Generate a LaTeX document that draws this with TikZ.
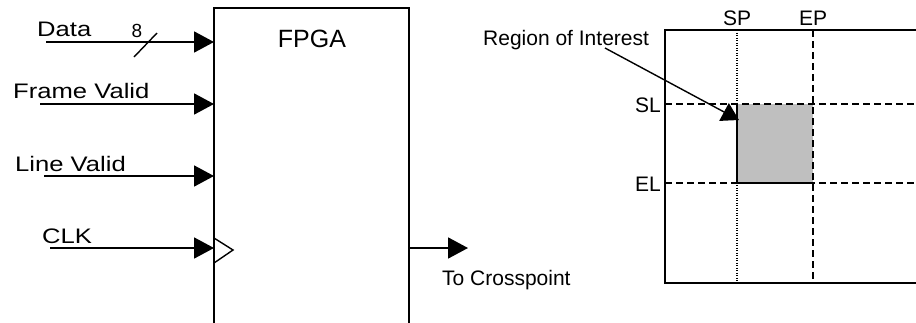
\documentclass[tikz,border=0pt]{standalone}
\usepackage{fontspec}
\setmainfont{Liberation Sans}
\usetikzlibrary{arrows.meta}
\begin{document}
\begin{tikzpicture}[x=1pt,y=-1pt,
  wire/.style={line width=1.8pt},
  sig/.style={wire,-{Triangle[length=20pt,width=21pt]}},
  lbl/.style={font=\fontsize{21}{21}\selectfont,inner sep=0pt},
  wlbl/.style={lbl,anchor=base west},
  dsh/.style={line width=1.5pt,dash pattern=on 7pt off 4pt},
  dot/.style={line width=1.1pt,dash pattern=on 1pt off 1.5pt}]
\useasboundingbox (0,0) rectangle (916,322);
\clip (0,0) rectangle (916,322);
% FPGA block
\draw[wire] (214,340) -- (214,8) coordinate (tl) -- (409,8) -- (409,340);
\node[font=\fontsize{25}{25}\selectfont,inner sep=0pt,anchor=base] (fpga) at (312,47) {FPGA};
% inputs
\coordinate (d0) at (46,42);  \coordinate (d1) at (214,42);
\coordinate (f0) at (40,104); \coordinate (f1) at (214,104);
\coordinate (l0) at (44,176); \coordinate (l1) at (214,176);
\coordinate (c0) at (50,248); \coordinate (c1) at (214,248);
\draw[sig] (d0) -- (d1);
\draw[sig] (f0) -- (f1);
\draw[sig] (l0) -- (l1);
\draw[sig] (c0) -- (c1);
\coordinate (s0) at (134,57); \coordinate (s1) at (157,33);
\draw[line width=1.4pt] (s0) -- (s1);
\node[lbl,anchor=base,font=\fontsize{19}{19}\selectfont] (eight) at (137,37) {8};
\node[wlbl] (data) at (37,36) {\scalebox{1.22}[1]{Data}};
\node[wlbl] (fv) at (13,98) {\scalebox{1.22}[1]{Frame Valid}};
\node[wlbl] (lv) at (15,171) {\scalebox{1.22}[1]{Line Valid}};
\node[wlbl] (clk) at (42,243) {\scalebox{1.22}[1]{CLK}};
% clock triangle
\coordinate (k0) at (214,238); \coordinate (k1) at (233,250); \coordinate (k2) at (214,263);
\draw[line width=1.4pt] (k0) -- (k1) -- (k2);
% output
\coordinate (o0) at (409,248); \coordinate (o1) at (468,248);
\draw[sig] (o0) -- (o1);
\node[wlbl] (tc) at (442,285) {To Crosspoint};
% right frame
\fill[fill=black!25] (737,104) rectangle (813,183);
\draw[dsh] (665,104) -- (930,104);
\draw[dsh] (665,183) -- (930,183);
\draw[dsh] (813,30) -- (813,283);
\draw[dot] (737,30) -- (737,283);
\draw[line width=1.4pt] (737,183) -- (737,104);
\draw[line width=1.4pt] (737,183) -- (813,183);
\draw[wire] (930,30) -- (665,30) -- (665,283) -- (930,283);
\node[lbl,anchor=base] (sp) at (737,25) {SP};
\node[lbl,anchor=base] (ep) at (813,25) {EP};
\node[lbl,anchor=east] (sl) at (661,105) {SL};
\node[lbl,anchor=east] (el) at (661,184) {EL};
\node[wlbl] (roi) at (483,45) {Region of Interest};
\coordinate (r0) at (605,48); \coordinate (r1) at (739,120);
\draw[line width=1.4pt,-{Triangle[length=17pt,width=20pt]}] (r0) -- (r1);
\end{tikzpicture}
\end{document}
